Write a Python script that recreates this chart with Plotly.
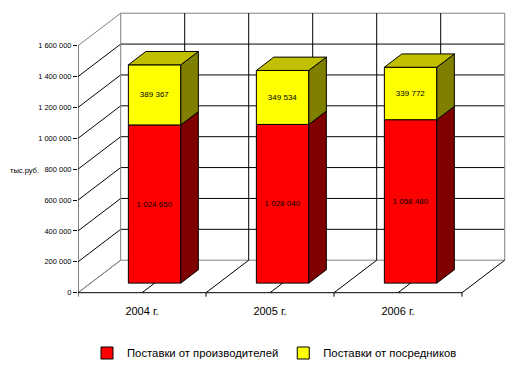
import plotly.graph_objects as go

# ---- data ----
categories = ["2004 г.", "2005 г.", "2006 г."]
producers = [1024650, 1028040, 1058480]
intermediaries = [389367, 349534, 339772]
series_names = ["Поставки от производителей", "Поставки от посредников"]
y_tickvals = [0, 200000, 400000, 600000, 800000, 1000000, 1200000, 1400000, 1600000]
y_ticktext = ["0", "200 000", "400 000", "600 000", "800 000", "1 000 000",
              "1 200 000", "1 400 000", "1 600 000"]
y_title = "тыс.руб."


def fmt(v):
    return f"{v:,}".replace(",", " ")


# ---- geometry / style (page pixels, minus the page's default body margin) ----
BODY = 8
W, H = 515 - BODY, 369 - BODY
ML = 78 - BODY
MT = 10 - BODY
MR = 5
PLOT_BOTTOM = 300 - BODY
MB = H - PLOT_BOTTOM
PLOT_W = W - ML - MR
PLOT_H = H - MT - MB
CAT_PX = 128.0                 # pixels per category on the front edge
VAL_PX = 247.0 / 1.6e6         # pixels per value unit
ZERO_OFF = 300 - 292.7         # px from plot bottom to front zero line
DX = 42.7 / CAT_PX             # full depth, in category units
DY = 32.5 / VAL_PX             # full depth, in value units
BAR_W = 0.41                   # bar width in categories
BAR_FRONT = 0.295              # depth fraction of bar front face
BAR_DEPTH = 0.41               # depth fraction of bar thickness
YMAX = y_tickvals[-1]
N = len(categories)

GRAY = "#808080"
FONT = "Arial, Liberation Sans, sans-serif"

fig = go.Figure()

shapes = []


def line(x0, y0, x1, y1, color="black", width=1):
    shapes.append(dict(type="line", xref="x", yref="y", x0=x0, y0=y0, x1=x1, y1=y1,
                       line=dict(color=color, width=width), layer="below"))


# left wall diagonals + back wall horizontals
for i, v in enumerate(y_tickvals):
    edge = (i == 0 or i == len(y_tickvals) - 1)
    c = GRAY if edge else "black"
    line(0, v, DX, v + DY, c)
    line(DX, v + DY, N + DX, v + DY, c)
# back wall verticals
for i in range(2 * N + 1):
    edge = (i == 0 or i == 2 * N)
    line(DX + 0.5 * i, DY, DX + 0.5 * i, YMAX + DY, GRAY if edge else "black")
# floor diagonals
for i in range(2 * N + 1):
    line(0.5 * i, 0, 0.5 * i + DX, DY, GRAY if i == 0 else "black")
# front axis lines
line(0, 0, 0, YMAX)
line(0, 0, N, 0)
for i in range(N + 1):
    line(i, 0, i, -4 / VAL_PX)

# ---- bars ----
fx = BAR_FRONT * DX
fy = BAR_FRONT * DY
bdx = BAR_DEPTH * DX
bdy = BAR_DEPTH * DY
xc = [i + 0.5 + fx for i in range(N)]

colors_front = ["#FF0000", "#FFFF00"]
colors_side = ["#800000", "#808000"]
color_top = "#C0C000"

bases = [[fy] * N, [fy + p for p in producers]]
values = [producers, intermediaries]

# side and top faces
for s in range(2):
    for i in range(N):
        xr = xc[i] + BAR_W / 2
        v0 = bases[s][i]
        v1 = v0 + values[s][i]
        fig.add_trace(go.Scatter(
            x=[xr, xr + bdx, xr + bdx, xr, xr],
            y=[v0, v0 + bdy, v1 + bdy, v1, v0],
            mode="lines", fill="toself", fillcolor=colors_side[s],
            line=dict(color="black", width=1), showlegend=False, hoverinfo="skip"))
for i in range(N):
    xl = xc[i] - BAR_W / 2
    xr = xc[i] + BAR_W / 2
    vt = bases[1][i] + intermediaries[i]
    fig.add_trace(go.Scatter(
        x=[xl, xr, xr + bdx, xl + bdx, xl],
        y=[vt, vt, vt + bdy, vt + bdy, vt],
        mode="lines", fill="toself", fillcolor=color_top,
        line=dict(color="black", width=1), showlegend=False, hoverinfo="skip"))

for s in range(2):
    fig.add_trace(go.Bar(
        x=xc, y=values[s], base=bases[s], width=BAR_W, name=series_names[s],
        marker=dict(color=colors_front[s], line=dict(color="black", width=1)),
        text=[fmt(v) for v in values[s]], textposition="inside",
        insidetextanchor="middle", textangle=0,
        textfont=dict(family=FONT, size=8, color="black"),
        hoverinfo="skip"))

fig.add_annotation(text=y_title, xref="paper", yref="paper",
                   x=(8 - BODY - ML) / PLOT_W, y=(300 - 170) / PLOT_H,
                   xanchor="left", yanchor="middle", showarrow=False,
                   font=dict(family=FONT, size=7.5, color="black"))

fig.update_layout(
    width=W, height=H,
    margin=dict(l=ML, r=MR, t=MT, b=MB, pad=0, autoexpand=False),
    paper_bgcolor="white", plot_bgcolor="white",
    barmode="overlay",
    shapes=shapes,
    font=dict(family=FONT, color="black"),
    xaxis=dict(range=[0, PLOT_W / CAT_PX], tickvals=[i + 0.5 for i in range(N)],
               ticktext=categories, showgrid=False, zeroline=False, showline=False,
               ticks="", tickfont=dict(size=11, color="black"), automargin=False,
               ticklabelstandoff=3),
    yaxis=dict(range=[-ZERO_OFF / VAL_PX, (PLOT_H - ZERO_OFF) / VAL_PX],
               tickvals=y_tickvals, ticktext=y_ticktext, showgrid=False,
               zeroline=False, showline=False, ticks="outside", ticklen=4,
               tickcolor="black", tickfont=dict(size=7.5, color="black"),
               automargin=False),
    legend=dict(orientation="h", x=(87 - BODY - ML) / PLOT_W, y=(300 - 353) / PLOT_H,
                xanchor="left", yanchor="middle", font=dict(size=11.3),
                bgcolor="rgba(0,0,0,0)", traceorder="normal"),
    showlegend=True,
)

fig.write_html("out.html")
